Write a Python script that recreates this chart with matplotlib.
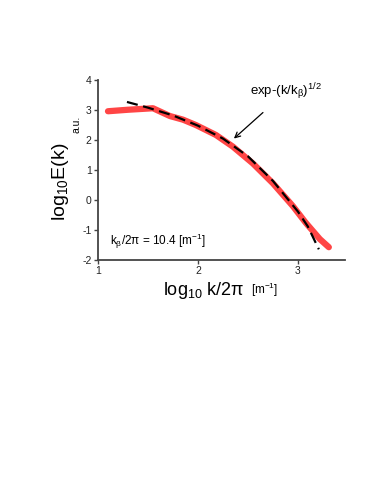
import matplotlib
matplotlib.use("Agg")
import matplotlib.pyplot as plt

plt.rcParams['font.family'] = ['Liberation Sans', 'DejaVu Sans']
plt.rcParams['mathtext.fontset'] = 'custom'
plt.rcParams['mathtext.rm'] = 'Liberation Sans'
plt.rcParams['mathtext.it'] = 'Liberation Sans'
plt.rcParams['mathtext.default'] = 'regular'
plt.rcParams['axes.unicode_minus'] = False

# measured spectrum (red)
log_k = [1.10, 1.30, 1.55, 1.72, 1.85, 1.98, 2.18, 2.35, 2.55, 2.75, 2.95, 3.08, 3.22, 3.31]
log_E = [2.96, 3.01, 3.06, 2.80, 2.68, 2.50, 2.17, 1.78, 1.22, 0.56, -0.20, -0.76, -1.30, -1.57]

# stretched-exponential fit (dashed)
fit_k = [1.29, 1.50, 1.75, 2.00, 2.25, 2.50, 2.75, 3.00, 3.10, 3.21]
fit_E = [3.27, 3.08, 2.82, 2.48, 2.05, 1.46, 0.64, -0.38, -0.88, -1.64]

x_ticks = [1, 2, 3]
y_ticks = [-2, -1, 0, 1, 2, 3, 4]

fig = plt.figure(figsize=(3.74, 4.88), dpi=100)
ax = fig.add_axes([0.262, 0.467, 0.660, 0.369])

ax.plot(log_k, log_E, color='#ff4545', lw=4.5, solid_capstyle='round', zorder=2)
ax.plot(fit_k, fit_E, color='black', lw=1.6, dashes=(5, 2.5), zorder=3)

ax.set_xlim(1, 3.47)
ax.set_ylim(-2, 4)
ax.set_xticks(x_ticks)
ax.set_yticks(y_ticks)

for s in ['top', 'right']:
    ax.spines[s].set_visible(False)
for s in ['left', 'bottom']:
    ax.spines[s].set_color('#444444')
    ax.spines[s].set_linewidth(1.3)
ax.tick_params(direction='out', length=3, width=1, color='#444444',
               labelsize=7.5, labelcolor='#222222', pad=1.5)

# axis labels
fig.text(0.163, 0.627, r'log$_{10}$E(k)', rotation=90, fontsize=14,
         ha='center', va='center')
fig.text(0.205, 0.745, 'a.u.', rotation=90, fontsize=7.5, ha='center', va='center')
fig.text(0.545, 0.405, r'log$_{10}$ k/2$\pi$', fontsize=13, ha='center', va='center')
fig.text(0.708, 0.405, r'[m$^{-1}$]', fontsize=8.5, ha='center', va='center')

ax.text(1.12, -1.38, r'k$_\beta$/2$\pi$ = 10.4 [m$^{-1}$]', fontsize=8.5,
        ha='left', va='center')

ax.annotate(r'exp-(k/k$_\beta$)$^{1/2}$', xy=(2.36, 2.05), xytext=(2.52, 3.6),
            fontsize=9.5, ha='left', va='center',
            arrowprops=dict(arrowstyle='->', color='black', lw=0.9,
                            shrinkA=8, shrinkB=0))

fig.savefig('out.png', dpi=100)
